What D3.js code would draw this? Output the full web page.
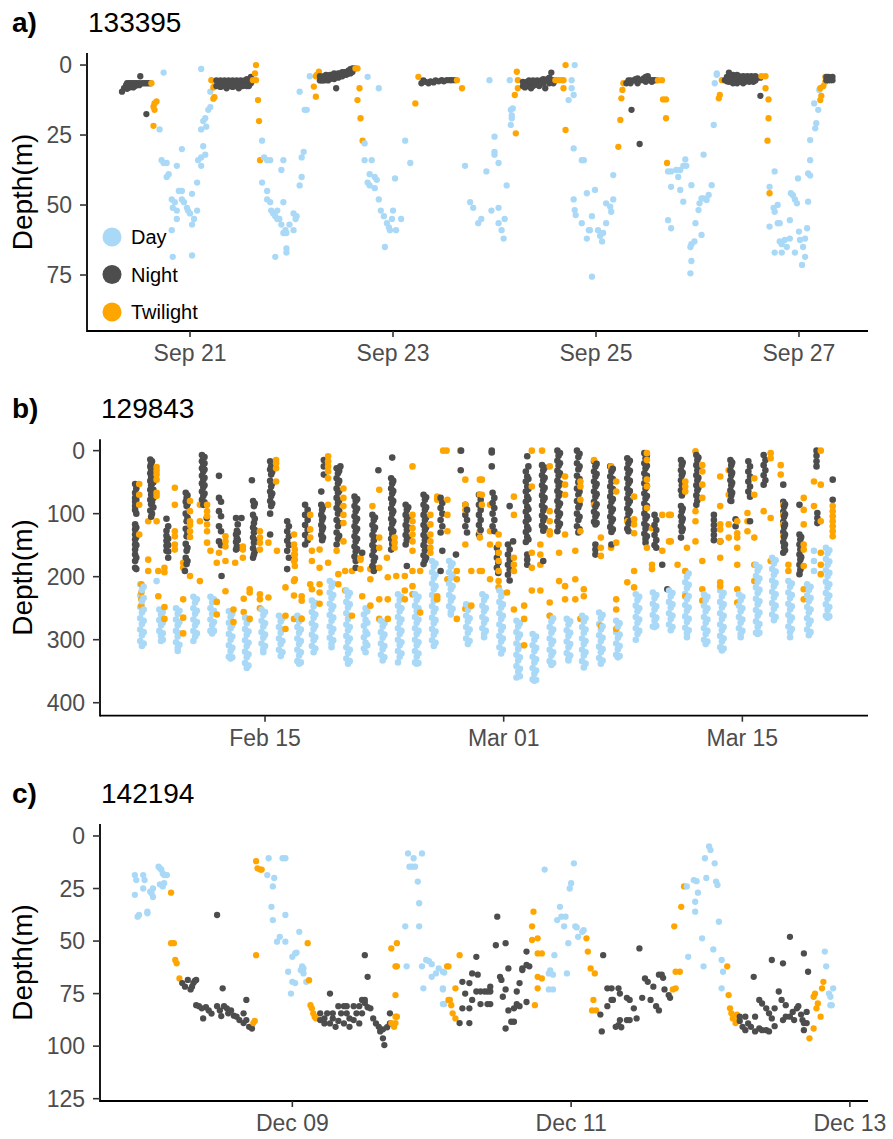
<!DOCTYPE html>
<html><head><meta charset="utf-8">
<script src="https://cdn.jsdelivr.net/npm/d3@7"></script>
<style>
body{margin:0;background:#fff}
svg{display:block}
text{font-family:"Liberation Sans",Arial,Helvetica,sans-serif}
</style>
</head><body>
<svg id="chart" width="893" height="1139"></svg>
<script>
// ---------- categories / tick labels ----------
const categories = ["Day", "Night", "Twilight"];
const aXTicks = ["2019-09-21", "2019-09-23", "2019-09-25", "2019-09-27"];
const bXTicks = ["2019-02-15", "2019-03-01", "2019-03-15"];
const cXTicks = ["2019-12-09", "2019-12-11", "2019-12-13"];
const aYTicks = [0, 25, 50, 75];
const bYTicks = [0, 100, 200, 300, 400];
const cYTicks = [0, 25, 50, 75, 100, 125];

// ---------- panel a) 133395 : rows = [day of September, depth, depth, ...] ----------
const aDay = [
[20.70,23],[20.72,34],[20.74,2.7,35],[20.77,35,40],[20.79,39],[20.82,48,59],[20.83,51,68.5],[20.85,49],
[20.87,36,52,55],[20.89,45],[20.92,30,45,48],[20.94,49],[20.97,51],[20.98,52],[21.0,53],[21.02,46,57,68],
[21.04,55],[21.07,42,52],[21.08,34],[21.11,1.4,33,36,23],[21.13,20,29],[21.15,19,32],[21.16,22],[21.18,16],[21.2,15,9.5],
[21.71,27,42],[21.73,33],[21.76,34,45,48],[21.79,34,49],[21.8,52],[21.82,53],[21.84,54,68.5],[21.86,55,52],[21.88,55],
[21.9,57,37.5],[21.92,60,49,34],[21.94,59],[21.95,60,65.5,67],[21.98,57],[22.02,53,59],[22.04,55],[22.05,54],
[22.08,43,9.5],[22.1,40,33],[22.12,31],[22.13,16],[22.15,16],[22.18,4],
[22.72,28,34],[22.75,42,4.2],[22.77,39,43],[22.79,34],[22.82,40,44],[22.84,41],[22.86,48,8.3],[22.88,52],[22.91,54],
[22.92,65],[22.94,56.5],[22.96,58],[22.97,59],[22.99,55],[23.0,52],[23.02,40.5],[23.03,59],[23.08,55],[23.12,27],[23.17,35],
[23.71,36],[23.76,49],[23.79,51],[23.84,56.5],[23.87,55],[23.92,38],[23.95,5.4],[23.97,52],[24.0,31,32,25.6],
[24.04,35,51,56.5],[24.07,59],[24.09,62],[24.1,55],[24.12,43],[24.15,5.4],[24.16,21.4,16],[24.17,18,19],[24.18,15.5],
[24.73,12.5],[24.76,5.4,8.3],[24.78,10.7,29.8,48],[24.79,0,51.8],[24.8,53.6],[24.86,34,56.5],[24.88,34],[24.91,62,45.8],
[24.93,59],[24.94,59],[24.96,54,75.6],[24.99,44.6],[25.02,59],[25.04,61],[25.06,63],[25.07,60],[25.1,56.5,49.4],
[25.14,50.6],[25.15,52.4],[25.17,48,39.3],
[25.71,38,55.4],[25.74,38,43.5,58.3],[25.79,37.5],[25.81,40],[25.83,37.5,44.6],[25.86,36,48.8],[25.88,33.7],[25.89,36],
[25.93,65,74.4],[25.94,42.9,64,70],[25.97,63],[25.98,56.5],[26.01,51.8],[26.02,49.4],[26.04,47.6,60.7],[26.06,47.6,32],
[26.09,48.2],[26.11,46.4],[26.14,42.9],[26.16,21.4],[26.17,6.5],[26.19,3,3.5],
[26.71,43.5,57.7],[26.75,51],[26.76,38,52.4,67],[26.79,50,56.5],[26.81,56.5,63],[26.83,64,67],[26.86,62.5],[26.88,65],
[26.91,62,55.4],[26.92,45.8],[26.94,46.5],[26.96,48,67],[26.98,49.4],[26.99,40.5],[27.0,59.5],[27.01,62.5],[27.03,71.4],
[27.04,65],[27.06,62,68.5],[27.08,58.3],[27.09,38.7,48.8],[27.11,39.5,34,26.8],[27.15,13.7],[27.16,22.6],[27.17,20.8],
[27.19,16],[27.2,8.9]
];
const aNight = [
[20.33,9.5],[20.35,8.3],[20.37,7.2],[20.38,6.5,8.5],[20.40,6.5,8],[20.42,6.5,7.5],[20.44,6.5,8],[20.46,6.5,7.5],[20.48,6.5],
[20.50,6.5,7.2],[20.51,4],[20.53,6.5],[20.55,6.5],[20.57,6.5,17.5],[20.59,6.5],[20.61,6.5],
[21.26,5.5,7.5],[21.28,6,7.5],[21.30,5.5,7.8],[21.32,6,7.5],[21.34,5.5,7.5],[21.36,6,8.3],[21.38,5.5,7.5],[21.40,6,7.5],
[21.42,5.5,7.8],[21.44,6,7.5],[21.46,5.5,7.5],[21.48,6,8.3],[21.50,5.5,7.5],[21.52,6,7.5],[21.54,5.5,7.2],[21.56,5,7.5],
[21.58,5.5,7.5],[21.60,4.2,6.5],[21.62,5.5],
[22.28,5.5,4],[22.30,4.5,5.5],[22.32,4,5.5],[22.34,3.5,5],[22.36,4,5.5],[22.38,3.5,5],[22.40,3.5,4.5],[22.42,3,5],
[22.44,3.5,8.3],[22.46,3,4.5],[22.48,3,4],[22.50,2.5,4],[22.52,2.5,3.5],[22.54,2.5,3.5],[22.56,2,3],[22.58,1.5,3],
[22.60,1.2,2.5],[22.62,1.2],
[23.28,6.5],[23.30,5.5],[23.32,6],[23.35,6.5],[23.37,5.8],[23.40,6.2],[23.42,5.5],[23.45,5.8],[23.48,5.4],[23.50,5.8],
[23.53,5.4],[23.56,5.4],[23.58,5.4],[23.61,5.4],
[24.28,6,7.5],[24.30,6.5,8],[24.32,6,7.5],[24.34,5.5,7],[24.36,6,8.3],[24.38,5.5,7.5],[24.40,6.5],[24.42,5.5,7],
[24.44,6,7.5],[24.46,5.5,6.5],[24.48,5,6.5],[24.50,5.4,8.3],[24.52,5],[24.54,4.5,6.5],[24.56,2.7,5.4],[24.58,5.4,6.5],[24.60,5.4],
[25.30,6.5],[25.32,5.5],[25.34,5.5,6.5],[25.35,16],[25.37,5.5],[25.39,5],[25.41,4.8,6.5],[25.43,5.4,28.2],[25.45,5.4],
[25.47,4.8],[25.49,4.2,6],[25.51,4],[25.53,5.4],[25.55,5.4,6],[25.57,5.4],[25.59,5.4],
[26.27,5.4],[26.29,4.2,5.8],[26.31,2.7,4.5,6],[26.33,4,5.5],[26.35,3.5,5.5,6.5],[26.37,4,5.5],[26.39,3.5,5,6.5],[26.41,4,5.5],
[26.43,4.5,6],[26.45,4,5.5,6.5],[26.47,4.5,6],[26.49,4,5.5],[26.51,4.5,6],[26.53,4,5.5],[26.55,4.5,6],[26.57,4,5.5],
[26.59,4.5],[26.62,11,4.5],
[27.27,4.2,5.4],[27.29,4.2,5.4],[27.31,4.5,5.4],[27.33,4.2,5.4]
];
const aTwilight = [
[20.62,6.5],[20.64,14.9,21.7],[20.65,13.7,16],[20.67,13],[21.21,5.4],[21.23,8,12],[21.24,7.5,11.5],
[21.62,5.4],[21.64,3],[21.65,0,5.4],[21.67,12.5],[21.68,20],[21.69,34],
[22.22,7.7],[22.24,11.3,4],[22.25,3.5],[22.27,2.4],[22.63,1.2],[22.65,1.2,12.5],[22.67,8.3],[22.68,19],[22.7,27],
[23.22,13.7],[23.25,4.2],[23.63,5.4],[23.68,8.3],
[24.2,10.7],[24.21,24.4],[24.22,2.4],[24.23,8.3,5.4],[24.6,5.4],[24.63,5.4],[24.66,5.4],[24.68,8.3,5.4],[24.7,0,23.2],
[25.22,29.2],[25.24,19.6],[25.25,11.9],[25.26,8.9],[25.27,6.5],[25.61,5.4],[25.65,5.4],[25.66,12.3],[25.69,12.3,19],[25.7,35],
[26.21,11.9],[26.22,10.7],[26.24,5.4],[26.63,4],[26.67,4,8.3],[26.69,27],[26.7,12.3,19],[26.71,45.8],
[27.21,12.5,8.3],[27.22,11],[27.24,7.5],[27.26,6,4.2]
];

// ---------- panel b) 129843 : rows = [days since 2019-02-01, depth, depth, ...] ----------
const bDay = [
[6.68,212,230,248,266,284,302],[6.88,216,234,252,270,288,306],[6.78,221,239,257,275,293,310],
[7.64,207],[7.8,252,269,286],[8.0,256,273,290,300],[7.9,260,277,294,302],
[8.78,250,268,286,304],[8.98,254,272,290,308],[8.88,259,277,295,313,318],
[9.8,232,250,268,286,302],[10.0,236,254,272,290],[9.9,241,259,277,295],
[10.8,232,250,268,286],[11.0,236,254,272,286],[10.9,241,259,277,290],
[11.88,255,273,291,309,327],[12.08,259,277,295,313,328],[11.98,264,282,300,318,330],
[12.83,265,283,301,319,337],[13.03,269,287,305,323,341],[12.93,274,292,310,328,345],
[13.8,252,270,288,306],[14.0,256,274,292,310],[13.9,261,279,297,315,320],
[14.82,262,280,298,316],[15.02,266,284,302,320],[14.92,271,289,307,326],
[15.9,262,280,298,316,334],[16.1,266,284,302,320,336],[16.0,271,289,307,325,338],
[16.75,238,256,274,292,310],[16.95,242,260,278,296,314],[16.85,247,265,283,301,320],
[17.8,207,225,243,261,279,297],[18.0,211,229,247,265,283,301],[17.9,216,234,252,270,288,306,312],
[18.77,222,240,258,276,294,312,330],[18.97,226,244,262,280,298,316,334],[18.87,231,249,267,285,303,321,338],
[19.8,260,278,296,314],[20.0,255,273,291,309],[19.9,250,269,287,305,320],
[20.8,270,288,306,324],[21.0,274,292,310,328],[20.9,279,297,315,333],
[21.8,228,246,264,282,300,318,336],[22.0,232,250,268,286,304,322],[21.9,237,255,273,291,309,327],
[22.8,228,246,264,282,300,318,336],[23.0,232,250,268,286,304,322,337],[22.9,237,255,273,291,309,327,338],
[23.8,175,193,211,229,247,265,283,301],[24.0,179,197,215,233,251,269,287,305],[23.9,184,202,220,238,256,274,292,310],
[24.8,175,193,211,229,247],[25.0,179,197,215,233,251],[24.9,184,202,220,238,256,260],
[25.8,244,262,280,298],[26.0,248,266,284,302],[25.9,253,271,289,307],
[26.75,228,246,264,282],[26.95,232,250,268,286],[26.85,237,255,273,291,296],
[27.75,222,240,258,276,294,312],[27.95,226,244,262,280,298,316],[27.85,231,249,267,285,303,322],
[28.75,270,288,306,324,342,360],[28.95,274,292,310,328,346,358],[28.85,279,297,315,333,351],
[29.7,291,309,327,345,363],[29.9,295,313,331,349,364],[29.8,300,318,336,354,365],
[30.7,262,280,298,316,334],[30.9,266,284,302,320,337],[30.8,271,289,307,325,340],
[31.7,267,285,303,321],[31.9,271,289,307,325],[31.8,276,294,312,330,333],
[32.6,262,280,298,316,334],[32.8,266,284,302,320,338],[32.7,271,289,307,325,344],
[33.6,257,275,293,311,329],[33.8,261,279,297,315,333],[33.7,266,284,302,320,338],
[34.6,270,288,306,324],[34.8,274,292,310,326],[34.7,279,297,315,328],
[35.75,228,246,264,282,300],[35.95,232,250,268,286],[35.85,237,255,273,291],
[36.75,225,243,261,279],[36.95,229,247,265,278],[36.85,234,252,270,280],
[37.7,222,240,258,276],[37.9,226,244,262,280],[37.8,231,249,267,285],
[38.65,191,209,227,245,263,281],[38.85,195,213,231,249,267,285],[38.75,200,218,236,254,272,290,296],
[39.75,228,246,264,282,300],[39.95,232,250,268,286,303],[39.85,237,255,273,291,307],
[40.7,222,240,258,276,294,312],[40.9,226,244,262,280,298,314],[40.8,231,249,267,285,303,317],
[41.8,228,246,264,282],[42.0,232,250,268,286],[41.9,237,255,273,291,296],
[42.8,181,199,217,235,253,271,289],[43.0,185,203,221,239,257,275,289],[42.9,190,208,226,244,262,280,291],
[43.75,170,188,206,224,242,260],[43.95,174,192,210,228,246,264],[43.85,179,197,215,233,251,269],
[44.7,207,225,243,261,279],[44.9,211,229,247,265,283],[44.8,216,234,252,270,288,296],
[45.8,212,230,248,266,284],[46.0,216,234,252,270,288],[45.9,221,239,257,275,293],
[46.2,159,175,191],
[46.9,154,172,190,208,226,244,262],[47.1,158,176,194,212,230,248,263],[47.0,163,181,199,217,235,253,265]
];
const bNight = [
[6.38,53,67,75,81,88,94,117,125,133,141,149,157,165,175,186],[6.45,60,78,100,122,137,150,170,188],
[7.27,14,25,36,48,62,78,95],[7.37,17,28,39,52,66,82,100],[7.32,20,30,42,55,70,85,105],[7.45,28,40,50,62,75,90],
[8.22,108,127,135,143,151,159],[8.32,120,140,150,160,170],
[9.3,191],[9.35,67,81,100,124,148,170],[9.45,71,85,106,130,154,175],[9.4,75,88,112,136,159,180],
[10.3,7,17,28,40,52,65,78],[10.45,10,20,30,43,55,68,82],[10.38,12,22,33,46,58,72,86],[10.58,107],
[11.3,40,75,96,120,144],[11.42,81,104,128,150],[11.45,199],
[12.3,107,133,145,157],[12.4,117,130,142,155],[12.35,127,139,152],[12.62,107],
[13.23,47],[13.3,80,102,122,138,155,170],[13.4,84,108,126,142,160],[13.35,88,115,130,146,165],
[14.3,133,17,30,48,65,80,100],[14.42,21,34,52,68,84],[14.36,25,38,57,72,88],
[15.3,112,128,143,159,188],[15.4,120,136,150,170],
[16.35,86,102,118,134,149],[16.5,94,110,126,142],
[17.3,65,86,102,118,134],[17.4,90,106,122,138],[17.35,94,110,126,142],[17.45,15,25,38],
[18.2,28,44,60,75,91,110,130,149],[18.35,32,48,64,79,95,115,135],[18.28,36,52,67,83,100,120,140],[18.42,25],
[19.25,73,88,104,120,136,152,168],[19.4,77,92,108,124,140,156,172],[19.32,80,96,112,128,144,160,175,186],[19.7,162],
[20.3,102,118,134,150,166,183],[20.45,106,122,138,154,170,187],[20.38,110,126,142,158,175,191],[20.65,31],
[21.4,44,60,76,92,108,124,140,157],[21.52,48,64,80,96,112,128,144],[21.46,11,52,68,84,100,116,132,148],
[22.25,86,102,118,134,149],[22.4,90,106,122,138],[22.32,94,110,126,142,183],
[23.3,70,86,102,118,134,150,166,180],[23.45,74,90,106,122,138,154,170],[23.38,78,94,110,126,142,158,174],
[24.3,75,91,110,130,191],[24.4,83,100,120,159],
[25.2,165],[25.48,31],[25.5,0],
[25.75,86,102,120],[25.85,94,110,130],
[26.55,70,86,102,118,133],[26.65,78,94,110,126],
[27.3,0,3,25],[27.35,67,83,100,120],[27.45,75,91,110,128],
[27.6,154,170,186],[27.68,162,178,194],
[28.25,149,165,181,197],[28.35,88,157,173,189,206],[28.55,144],
[29.3,33,49,65,81,97,113,129,145],[29.45,25,45,61,77,93,109,125,141],[29.38,9,41,57,73,89,105,121,137,165,173,181],
[30.25,23,39,55,71,87,103,119],[30.4,27,43,59,75,91,107,123],[30.32,31,47,63,79,95,111,127,175],
[31.15,0,16,32,48,64,80,96,112,128],[31.3,4,20,36,52,68,84,100,116],[31.22,8,24,40,56,72,88,104,120],
[32.3,0,20,40,60,80,100,120],[32.45,5,25,45,65,85,105,125],[32.38,10,30,50,70,90,110,130],
[33.3,17,33,49,65,81,97,113],[33.45,21,37,53,69,85,101,115],[33.38,25,41,57,73,89,105,117,149,157,165],
[34.25,25,41,57,73,89,105,121],[34.4,29,45,61,77,93,109,125],[34.32,33,49,65,81,97,113,129,149],
[35.25,12,28,44,60,76,92,108,124],[35.4,16,32,48,64,80,96,112],[35.32,20,36,52,68,84,100,116,128],
[36.25,4,20,36,52,68,84,100,116,132],[36.4,8,24,40,56,72,88,104,120,136],[36.32,12,28,44,60,76,92,108,124,140,146],
[36.85,102,118,134,150],[36.95,110,126,142,154],[37.3,181],[37.6,220],
[38.4,15,31,47,63,88,104,120,138],[38.5,19,35,51,67,92,108,124],[38.45,23,39,55,71,96,112,128],
[39.3,7,23,39,55,71,86],[39.42,11,27,43,59,75],[39.36,15,31,47,63,79],
[40.33,102,110,118,126,134,142],[40.7,144],
[41.3,15,31,47,63,79],[41.4,19,35,51,67],[41.35,23,39,55,71,80],[41.6,109,120],
[42.35,17,33,49,65],[42.45,25,41,57,73,112],
[43.25,7,23,39,54],[43.35,15,31,47],
[44.4,54,81,97,113,129,145,162],[44.5,85,101,117,133,149,158],[44.45,89,105,121,137,153],
[45.35,86,133,149,165,181,196],[45.45,137,153,169,185],[45.4,141,157,173,189],
[46.35,0,8,17,25],[46.4,99,107,115],[47.3,46,78]
];
const bTwilight = [
[6.62,53,70,86,133],[6.75,212,225,236,246],[7.15,173,191,112],[7.64,26,32,38,46,67,72,112],[7.74,191,231],
[8.1,186,193,248,267],[8.71,59,86,128,136,149,157],[9.2,178,186,236,265,290],[9.6,80,96,112,118,128,137,199],
[10.18,86,112,207],[10.6,86,96,104,117,128,146],[10.8,159],[11.17,178,240,260],[11.3,162],[11.68,136,144,152,175,223],
[12.15,252,272],[12.25,178],[12.7,152,157,170],[12.75,235,256],[13.1,220,225,267],[13.7,128,138,146,157,228,236,250],
[14.2,146,233],[14.65,15,20,28,49],[14.7,159],[15.2,217,262,283],[15.7,133,149,165,175,207,230,267],
[15.75,157,165,173,183,204],[16.15,231,238,267],[16.65,102,125,138,212],[16.75,159,175,220],[17.2,157,186,212,225,243],
[17.7,9,17,25,33,44,86,178],[18.2,159],[18.3,196,212],[18.6,60,75,88,102,115,144],[18.7,191,222],[19.1,191,262],
[19.6,170,188,173],[19.7,231],[20.18,188,204,246],[20.3,88],[20.7,62,138,154,186,236,267],[21.15,170],[21.2,201,236,267],
[21.6,138,146,154],[21.7,199],[22.2,199,222,236],[22.65,25,102,112,123,133,144,159,191,215,228],[23.1,191,257],
[23.7,102,117,133,144,154,162],[24.1,73,78,231,236],[24.45,0],[24.65,0],[24.7,78,102,128,204],[25.25,191,204,267],
[25.45,0],[25.75,46,86,94,149,251],[26.1,191,246],[26.6,46,70,128,138,191],
[26.72,46,70,86,191],[27.2,86,128,149,204],[27.7,133,149,162,175,191,207,217],[28.2,225],[28.6,73,102,170,181,191,252],
[29.2,246,267,309],[29.65,0,57,162,186,222],[30.15,222,149,165,181],[30.25,0],[30.7,25,96,112,128,133,241,262],
[31.25,162,207],[31.6,41,54,70,133,215,236],[32.2,159,204,236],[32.5,49,57,78,128,267],[32.7,220,231],[33.3,15,86],
[33.7,138,154,167,278],[34.3,25,154],[34.6,49,65,146,236,252,283],[35.25,209,112],[35.65,73,109,117,131,191,217],
[36.4,4,15,46,57,91,154],[36.7,123,181,188],[37.3,102,159],[37.7,102,144],
[37.8,102,144],[38.2,181],[38.65,49,57,65,191,231],[38.75,154],[39.25,1,96,112,144],[39.65,23,33,54,75,175,220,238],
[40.7,41,88,117,125,144,170,209,215],[41.2,117,138,31,70],[41.7,131,138,154,181,220,241,112],[42.3,99,112,128],
[42.7,44,70,138,181,207],[43.25,96],[43.66,4,12,107,175],[44.25,23,38],[44.4,86,102,117,136],[44.7,181,191],
[45.6,75,94,117,149,157,183,220,236],[46.2,88,49],[46.6,0,54,112,162,181,196],[47.3,88,96,104,112,120,128,136]
];

// ---------- panel c) 142194 : rows = [day of December, depth, depth, ...] ----------
const cDay = [
[7.87,28,18.6],[7.88,21],[7.89,38.4],[7.9,37.6],[7.93,18.6,25],[7.94,21],[7.96,36.8,36],[7.98,26.5],[7.99,27.3],
[8.0,29,25],[8.04,14.6],[8.05,15.4,23],[8.06,16],[8.07,17.8,24],[8.08,18.6,22.5],[8.1,18.6],
[8.82,18.6],[8.83,10.6],[8.85,33.7],[8.86,40,24],[8.87,20],[8.89,50.3],[8.91,48],[8.93,10.6],[8.95,10.6,37.6,50.3],
[8.97,64.6],[8.99,75],[9.0,57.5,69.4],[9.02,70,55.9],[9.03,55.5],[9.05,45.6],[9.06,63.8],[9.07,62],[9.08,65.4,63],[9.1,69.4],
[9.81,43],[9.82,62],[9.83,8.3],[9.84,14.6],[9.86,14.6],[9.87,10.6],[9.88,14.6],[9.9,21.7],[9.91,32,43],[9.93,8.3,62],
[9.94,72.5],[9.96,59],[9.98,59.5],[10.0,61,67],[10.03,65.4],[10.05,63],[10.08,73,64.6,72.5,80],[10.09,80,65],
[10.81,16],[10.84,65.4,73],[10.85,64],[10.87,73,66],[10.88,56.7],[10.9,40],[10.92,33.7],[10.93,38.4],[10.95,43],
[10.96,38.4],[10.97,65.4],[10.98,51],[10.99,25],[11.0,22.5],[11.02,13],[11.03,43],[11.04,43.5],[11.05,48],[11.08,45.6],[11.09,44.8],
[11.83,24],[11.84,57.5],[11.88,21],[11.89,31.3,36],[11.9,21.5],[11.91,27],[11.94,48.7],[11.95,62],[11.96,10.6],[11.97,20],
[11.99,5],[12.0,6.7],[12.02,54],[12.03,13],[12.04,21.7],[12.05,23.3],[12.06,40.8],[12.08,59,72.5],[12.09,64.6],
[12.82,55],[12.83,62],[12.85,75],[12.86,76.5,80.5],[12.87,80.5],[12.88,72.5]
];
const cNight = [
[8.21,70],[8.23,71.7],[8.25,68.5],[8.27,73],[8.28,71.7],[8.29,70],[8.3,69],[8.31,68.5,80.5],[8.33,81],[8.35,82],
[8.36,86.8],[8.38,81.5],[8.4,83],[8.42,84.5],[8.46,37.6,81],[8.48,83],[8.49,85.7],[8.5,72.5],[8.51,81],[8.53,82],
[8.54,84.4],[8.56,83],[8.58,85.5],[8.6,86],[8.62,87.6],[8.65,89,84.4],[8.67,78,87.6],[8.69,90.8],[8.71,91.6],
[9.2,87.6,84.4],[9.23,89.2,86.8],[9.25,84.4],[9.27,75,89.2],[9.29,86.8,84.4],[9.31,90.8],[9.33,81,88],[9.35,84.4],
[9.37,89.2,81],[9.39,81,84.4],[9.41,86.8,90.8],[9.44,87.6,81],[9.46,84.4],[9.48,89.2,81],[9.5,84.4,78],[9.52,56.7,78,79.5],
[9.54,67,81.5],[9.56,82],[9.58,86.8],[9.6,89.2],[9.62,90.8],[9.63,93],[9.65,96.3,92],[9.66,99.5],[9.68,91],[9.7,89.2,84.4],
[10.2,89],[10.22,69.4,82],[10.24,75],[10.27,89,70,82],[10.29,65.4,78],[10.32,57.5,74],[10.33,66],[10.35,74,80],[10.38,74],
[10.4,80,74],[10.42,74,71.7,80],[10.46,52],[10.47,38.4],[10.49,67],[10.5,68.5],[10.51,76.5],[10.53,73,91.6,51],[10.55,63,83],
[10.57,88.4],[10.59,88.4,82],[10.61,74,80],[10.63,81,70],[10.65,63.8,63],[10.68,61.4,55,79],[10.7,62],
[11.21,85],[11.22,93],[11.23,56.7],[11.26,72.5,81],[11.29,72.5,78],[11.3,78],[11.32,90.8],[11.34,90,72.5],[11.35,87.6,75],
[11.36,91],[11.4,87.6,77],[11.42,87.6,78],[11.45,82],[11.47,86.8],[11.49,53.5],[11.51,77],[11.53,67.8],[11.55,69.4],
[11.57,78],[11.59,71.7],[11.61,81],[11.63,83,66],[11.65,66],[11.66,67.5],[11.67,73],[11.7,75.7],[11.71,77],
[12.21,88,86],[12.23,90.8],[12.25,92.4,86],[12.27,89.2],[12.29,90.8],[12.31,67],[12.32,93,86],[12.35,91.6,78],
[12.37,92.4,79.7],[12.4,92.4,82],[12.42,93,84.4],[12.44,86.8,59],[12.46,82,90.5],[12.49,74],[12.51,78],[12.52,87.6,60.6],
[12.54,86,80.5],[12.57,86,48],[12.59,83.7],[12.6,87.6],[12.62,82],[12.63,81],[12.65,85],[12.66,87.6],[12.67,89,92.4,55.9],
[12.69,89,83.7],[12.7,64.6]
];
const cTwilight = [
[8.13,27,51],[8.15,51],[8.16,59],[8.17,60.6],[8.19,67.8],[8.72,89],[8.73,88],[8.74,12,56.7],[8.75,15.4],[8.77,16],[8.78,16],
[9.11,51],[9.12,68.6],[9.13,80.5],[9.14,82],[9.15,84.4],[9.16,86],[9.17,86.8],
[9.71,89,53.5],[9.73,90.8],[9.74,89,86,75.7,62],[9.75,86,51,62],
[10.11,62],[10.12,62,78],[10.13,78],[10.14,80.5],[10.15,84.4],[10.17,86.8,72.5],[10.2,56.7],
[10.72,43,49.5],[10.73,36],[10.74,80.5],[10.76,55.9,48.7,67,72.5],[10.79,55.9,67.8],
[11.11,48.7],[11.12,55],[11.14,63],[11.15,83],[11.16,78],[11.17,65.4],[11.18,83],
[11.73,73],[11.74,43],[11.75,72.5,64.6],[11.78,64.6],[11.79,33.7],[11.81,24],
[12.12,62],[12.13,75.7],[12.14,82],[12.15,84.4],[12.16,86.8],[12.18,89],[12.19,85],[12.2,87.6],
[12.71,96.3],[12.74,91.6,76.5],[12.75,75],[12.76,82],[12.77,79.7],[12.79,86],[12.8,72.5],[12.81,69.4]
];

// ---------- drawing ----------
const colors = {Day: "#a9d9f7", Night: "#4d4d4d", Twilight: "#ffa500"};
const DAYMS = 864e5;
const svg = d3.select("#chart");

const panels = [
  {tag: "a)", name: "133395", origin: Date.UTC(2019, 7, 31), tDom: [19.985, 27.68], dDom: [-4.3, 95],
   xr: [87, 868], yr: [53, 331], xTicks: aXTicks, yTicks: aYTicks, titleY: 32, r: 3.15,
   data: {Day: aDay, Night: aNight, Twilight: aTwilight}, legend: true},
  {tag: "b)", name: "129843", origin: Date.UTC(2019, 1, 1), tDom: [4.32, 49.37], dDom: [-18, 420.6],
   xr: [100, 868], yr: [439.3, 715.7], xTicks: bXTicks, yTicks: bYTicks, titleY: 418, r: 3.3,
   data: {Day: bDay, Night: bNight, Twilight: bTwilight}, legend: false},
  {tag: "c)", name: "142194", origin: Date.UTC(2019, 10, 30), tDom: [7.62, 13.13], dDom: [-5.7, 126.1],
   xr: [100, 868], yr: [824, 1101], xTicks: cXTicks, yTicks: cYTicks, titleY: 803, r: 3.15,
   data: {Day: cDay, Night: cNight, Twilight: cTwilight}, legend: false}
];

const fmt = d3.utcFormat("%b %d");
const FONT = '"Liberation Sans", Arial, sans-serif';

panels.forEach(p => {
  const toDate = t => new Date(p.origin + t * DAYMS);
  const x = d3.scaleUtc().domain(p.tDom.map(toDate)).range(p.xr);
  const y = d3.scaleLinear().domain(p.dDom).range(p.yr);
  const g = svg.append("g");

  // points, drawn in time order like the original
  const pts = [];
  categories.forEach(cat => p.data[cat].forEach(row => row.slice(1).forEach(d => pts.push({t: row[0], d, cat}))));
  pts.sort((a, b) => a.t - b.t);
  g.append("g").selectAll("circle").data(pts).join("circle")
    .attr("cx", q => x(toDate(q.t)))
    .attr("cy", q => y(q.d))
    .attr("r", p.r)
    .attr("fill", q => colors[q.cat]);

  // axes lines
  const x0 = p.xr[0], yb = p.yr[1];
  g.append("line").attr("x1", x0).attr("x2", p.xr[1]).attr("y1", yb).attr("y2", yb)
    .attr("stroke", "#000").attr("stroke-width", 1.8);
  g.append("line").attr("x1", x0).attr("x2", x0).attr("y1", p.yr[0]).attr("y2", yb + 0.9)
    .attr("stroke", "#000").attr("stroke-width", 1.8);

  // x ticks
  const xt = p.xTicks.map(s => new Date(s + "T00:00:00Z"));
  const xg = g.append("g");
  xg.selectAll("line").data(xt).join("line")
    .attr("x1", d => x(d)).attr("x2", d => x(d)).attr("y1", yb).attr("y2", yb + 6)
    .attr("stroke", "#333").attr("stroke-width", 1.6);
  xg.selectAll("text").data(xt).join("text")
    .attr("x", d => x(d)).attr("y", yb + 30).attr("text-anchor", "middle")
    .style("font-size", "23px").style("font-family", FONT).attr("fill", "#4d4d4d")
    .text(d => fmt(d));

  // y ticks
  const yg = g.append("g");
  yg.selectAll("line").data(p.yTicks).join("line")
    .attr("x1", x0 - 7).attr("x2", x0).attr("y1", d => y(d)).attr("y2", d => y(d))
    .attr("stroke", "#333").attr("stroke-width", 1.6);
  yg.selectAll("text").data(p.yTicks).join("text")
    .attr("x", x0 - 15).attr("y", d => y(d)).attr("dy", "0.35em").attr("text-anchor", "end")
    .style("font-size", "23px").style("font-family", FONT).attr("fill", "#4d4d4d")
    .text(d => d);

  // y axis title
  g.append("text")
    .attr("transform", `translate(32,${(p.yr[0] + p.yr[1]) / 2}) rotate(-90)`)
    .attr("text-anchor", "middle")
    .style("font-size", "28px").attr("fill", "#000")
    .text("Depth(m)");

  // panel tag + title
  g.append("text").attr("x", 12).attr("y", p.titleY)
    .style("font-size", "28px").style("font-weight", "bold").attr("fill", "#000").text(p.tag);
  g.append("text").attr("x", p.xr[0] + 1).attr("y", p.titleY)
    .style("font-size", "28px").attr("fill", "#000").text(p.name);

  if (p.legend) {
    const lg = g.append("g");
    const ly = [237, 274.5, 312];
    categories.forEach((cat, i) => {
      lg.append("circle").attr("cx", 112).attr("cy", ly[i]).attr("r", 9.5).attr("fill", colors[cat]);
      lg.append("text").attr("x", 131).attr("y", ly[i]).attr("dy", "0.35em")
        .style("font-size", "20px").attr("fill", "#000").text(cat);
    });
  }
});
</script>
</body></html>
